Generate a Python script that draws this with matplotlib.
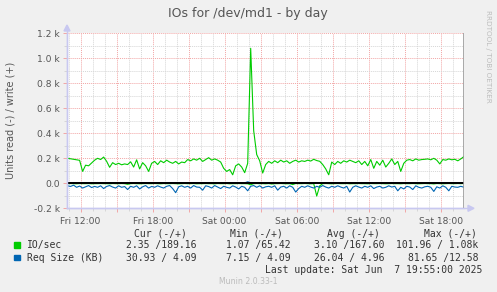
import numpy as np
import pandas as pd
import matplotlib
matplotlib.use("Agg")
import matplotlib.pyplot as plt
import matplotlib.dates as mdates
from matplotlib.patches import Rectangle
from matplotlib.ticker import MultipleLocator, FixedLocator, FuncFormatter

# 15 minute samples, Fri 10:55 -> Sat 19:55
times = pd.date_range("2025-06-06 10:55", "2025-06-07 19:55", freq="15min")

# IO/sec write (+)
io_write = [200, 196, 192, 188, 184, 95, 145, 140, 162, 185,
            200, 190, 210, 176, 128, 165, 150, 160, 148, 155,
            150, 172, 130, 188, 115, 165, 140, 95, 160, 175,
            150, 180, 165, 185, 170, 160, 175, 155, 170, 165,
            190, 180, 195, 185, 200, 175, 190, 205, 185, 195,
            185, 170, 120, 95, 110, 68, 140, 155, 130, 85,
            160, 1080, 420, 230, 180, 82, 150, 175, 160, 180,
            165, 185, 170, 180, 160, 175, 185, 170, 180, 175,
            185, 178, 192, 182, 176, 150, 115, 68, 170, 150,
            175, 160, 180, 170, 185, 175, 165, 180, 150, 175,
            140, 190, 120, 175, 145, 185, 130, 160, 195, 150,
            175, 95, 160, 185, 190, 180, 195, 185, 190, 192,
            195, 188, 200, 185, 155, 190, 185, 195, 188, 192,
            180, 195, 213]

# IO/sec read (-)
io_read = [3, 2, 3, 4, 2, 3, 3, 2, 4, 3,
           3, 2, 3, 3, 4, 2, 3, 3, 2, 3,
           8, 3, 2, 3, 4, 3, 2, 3, 3, 2,
           3, 4, 2, 3, 3, 2, 3, 4, 3, 2,
           3, 3, 2, 4, 3, 3, 2, 3, 3, 4,
           2, 3, 3, 2, 4, 3, 3, 2, 3, 3,
           4, 12, 3, 2, 3, 3, 4, 2, 6, 3,
           3, 2, 3, 4, 3, 10, 2, 3, 3, 2,
           3, 4, 3, 102, 20, 3, 2, 3, 4, 3,
           2, 3, 3, 2, 4, 3, 3, 2, 3, 3,
           4, 2, 3, 3, 2, 3, 4, 3, 2, 3,
           3, 4, 2, 3, 3, 2, 3, 4, 3, 2,
           3, 3, 5, 2, 3, 4, 3, 2, 3, 3,
           2, 3, 2]

# Req size read (-)
req_read = [20, 25, 15, 32, 22, 38, 28, 18, 34, 25,
            32, 20, 42, 25, 18, 30, 38, 20, 32, 26,
            50, 24, 32, 20, 45, 28, 18, 38, 25, 32,
            20, 30, 38, 24, 18, 42, 75, 28, 20, 32,
            24, 38, 18, 30, 32, 55, 20, 26, 38, 18,
            30, 42, 24, 32, 38, 20, 30, 45, 24, 32,
            60, 24, 18, 32, 20, 38, 28, 24, 32, 20,
            55, 30, 24, 38, 20, 32, 70, 42, 24, 32,
            20, 30, 38, 24, 32, 18, 30, 38, 24, 32,
            20, 30, 38, 24, 70, 32, 20, 30, 38, 24,
            32, 20, 42, 30, 24, 38, 32, 20, 30, 24,
            60, 32, 45, 24, 30, 50, 20, 32, 38, 28,
            24, 32, 65, 28, 38, 20, 32, 60, 24, 30,
            32, 24, 31]

# Req size write (+)
req_write = [5, 4, 6, 5, 4, 5, 6, 4, 5, 5,
             4, 6, 5, 5, 4, 5, 6, 5, 4, 5,
             6, 5, 4, 5, 5, 6, 4, 5, 5, 4,
             5, 6, 5, 4, 5, 5, 6, 4, 5, 5,
             4, 5, 6, 5, 4, 5, 5, 6, 4, 5,
             5, 4, 6, 5, 5, 4, 5, 6, 5, 4,
             12, 5, 4, 5, 6, 5, 4, 5, 5, 6,
             4, 5, 5, 6, 4, 5, 5, 4, 6, 5,
             5, 4, 5, 6, 5, 4, 5, 5, 6, 4,
             5, 5, 4, 6, 5, 5, 4, 5, 6, 5,
             4, 5, 5, 6, 4, 5, 5, 4, 6, 5,
             5, 4, 5, 6, 5, 4, 5, 5, 6, 4,
             5, 5, 4, 6, 5, 5, 4, 5, 6, 5,
             4, 5, 4]

y_ticks = [-200, 0, 200, 400, 600, 800, 1000, 1200]
y_tick_labels = ["-0.2 k", "0.0", "0.2 k", "0.4 k", "0.6 k", "0.8 k", "1.0 k", "1.2 k"]

legend_names = ["IO/sec", "Req Size (KB)"]
legend_colors = ["#00CC00", "#0066B3"]
col_headers = ["Cur (-/+)", "Min (-/+)", "Avg (-/+)", "Max (-/+)"]
row_io = ["2.35 /189.16", "1.07 /65.42", "3.10 /167.60", "101.96 / 1.08k"]
row_req = ["30.93 / 4.09", "7.15 / 4.09", "26.04 / 4.96", "81.65 /12.58"]

W, H = 497, 292
BG = "#F0F0F0"
TXT = "#555555"


def fx(x):
    return x / W


def fy(y):
    return 1 - y / H


fig = plt.figure(figsize=(W / 100, H / 100), dpi=100, facecolor=BG)
ax = fig.add_axes([fx(67), fy(208.3), fx(464 - 67), (208.3 - 33.3) / H])
ax.set_facecolor("white")

t = mdates.date2num(times.to_pydatetime())
ax.plot(t, -np.array(io_read), color=legend_colors[0], lw=0.8)
ax.plot(t, io_write, color=legend_colors[0], lw=0.8)
ax.plot(t, -np.array(req_read), color=legend_colors[1], lw=0.8)
ax.plot(t, req_write, color=legend_colors[1], lw=0.8)
ax.axhline(0, color="black", lw=1.4, zorder=5)

x0 = mdates.date2num(pd.Timestamp("2025-06-06 10:52"))
x1 = mdates.date2num(pd.Timestamp("2025-06-07 19:56"))
ax.set_xlim(x0, x1)
ax.set_ylim(-200, 1200)
ax.axvline(x1, color="#999999", lw=1.2, zorder=6)

# grids
ax.xaxis.set_major_locator(mdates.HourLocator(byhour=range(0, 24, 3)))
ax.xaxis.set_minor_locator(mdates.HourLocator())
ax.xaxis.set_major_formatter(FuncFormatter(
    lambda v, p: mdates.num2date(v).strftime("%a %H:%M") if mdates.num2date(v).hour % 6 == 0 else ""))
ax.yaxis.set_major_locator(FixedLocator(y_ticks))
ax.yaxis.set_minor_locator(MultipleLocator(100))
ax.set_yticklabels(y_tick_labels)

ax.grid(which="minor", color="#D6D6D6", linestyle=(0, (1, 1)), lw=0.7)
ax.grid(which="major", color="#F2A6A6", linestyle=(0, (1, 1)), lw=0.7)
ax.set_axisbelow(True)

ax.tick_params(which="major", length=3, width=0.7, color="#F2A6A6", labelsize=6.6,
               labelcolor=TXT, pad=2)
ax.tick_params(which="minor", length=2, width=0.7, color="#D6D6D6")
ax.tick_params(axis="x", which="major", pad=3)

for s in ["top", "right"]:
    ax.spines[s].set_visible(False)
for s in ["left", "bottom"]:
    ax.spines[s].set_color("#C8C8F0")
    ax.spines[s].set_linewidth(1)

# axis arrows
fig.add_artist(plt.Line2D([fx(67), fx(67)], [fy(208), fy(27)], color="#C8C8F0", lw=1))
fig.add_artist(plt.Line2D([fx(67), fx(471)], [fy(208.3), fy(208.3)], color="#C8C8F0", lw=1))
fig.add_artist(plt.Polygon([[fx(64), fy(31)], [fx(70), fy(31)], [fx(67), fy(25)]],
                           closed=True, color="#C8C8F0", transform=fig.transFigure))
fig.add_artist(plt.Polygon([[fx(468), fy(205.3)], [fx(468), fy(211.3)], [fx(474), fy(208.3)]],
                           closed=True, color="#C8C8F0", transform=fig.transFigure))

# texts
fig.text(fx(248), fy(13), "IOs for /dev/md1 - by day", ha="center", va="center",
         fontsize=9, color=TXT)
fig.text(fx(11), fy(120), "Units read (-) / write (+)", rotation=90, ha="center",
         va="center", fontsize=7, color=TXT)
fig.text(fx(488), fy(56), "RRDTOOL / TOBI OETIKER", rotation=270, ha="center",
         va="center", fontsize=5.2, color="#BDBDBD")

mono = dict(family="DejaVu Sans Mono", fontsize=7, color="#333333", va="center")
header_right = [187, 283, 380, 477]
value_right = [197, 291, 384, 478]
for h, xr in zip(col_headers, header_right):
    fig.text(fx(xr), fy(234), h, ha="right", **mono)

for i, (name, col) in enumerate(zip(legend_names, legend_colors)):
    yy = 245 + i * 12.7
    fig.add_artist(Rectangle((fx(14), fy(yy + 2.6)), fx(5.6), 5.6 / H, color=col,
                             transform=fig.transFigure))
    fig.text(fx(26.7), fy(yy), name, ha="left", **mono)

for s, xr in zip(row_io, value_right):
    fig.text(fx(xr), fy(245), s, ha="right", **mono)
for s, xr in zip(row_req, value_right):
    fig.text(fx(xr), fy(257.7), s, ha="right", **mono)

fig.text(fx(482), fy(270), "Last update: Sat Jun  7 19:55:00 2025", ha="right", **mono)
fig.text(fx(248), fy(281.5), "Munin 2.0.33-1", ha="center", va="center",
         fontsize=5.6, color="#BBBBBB")

fig.savefig("out.png", dpi=100, facecolor=BG)
